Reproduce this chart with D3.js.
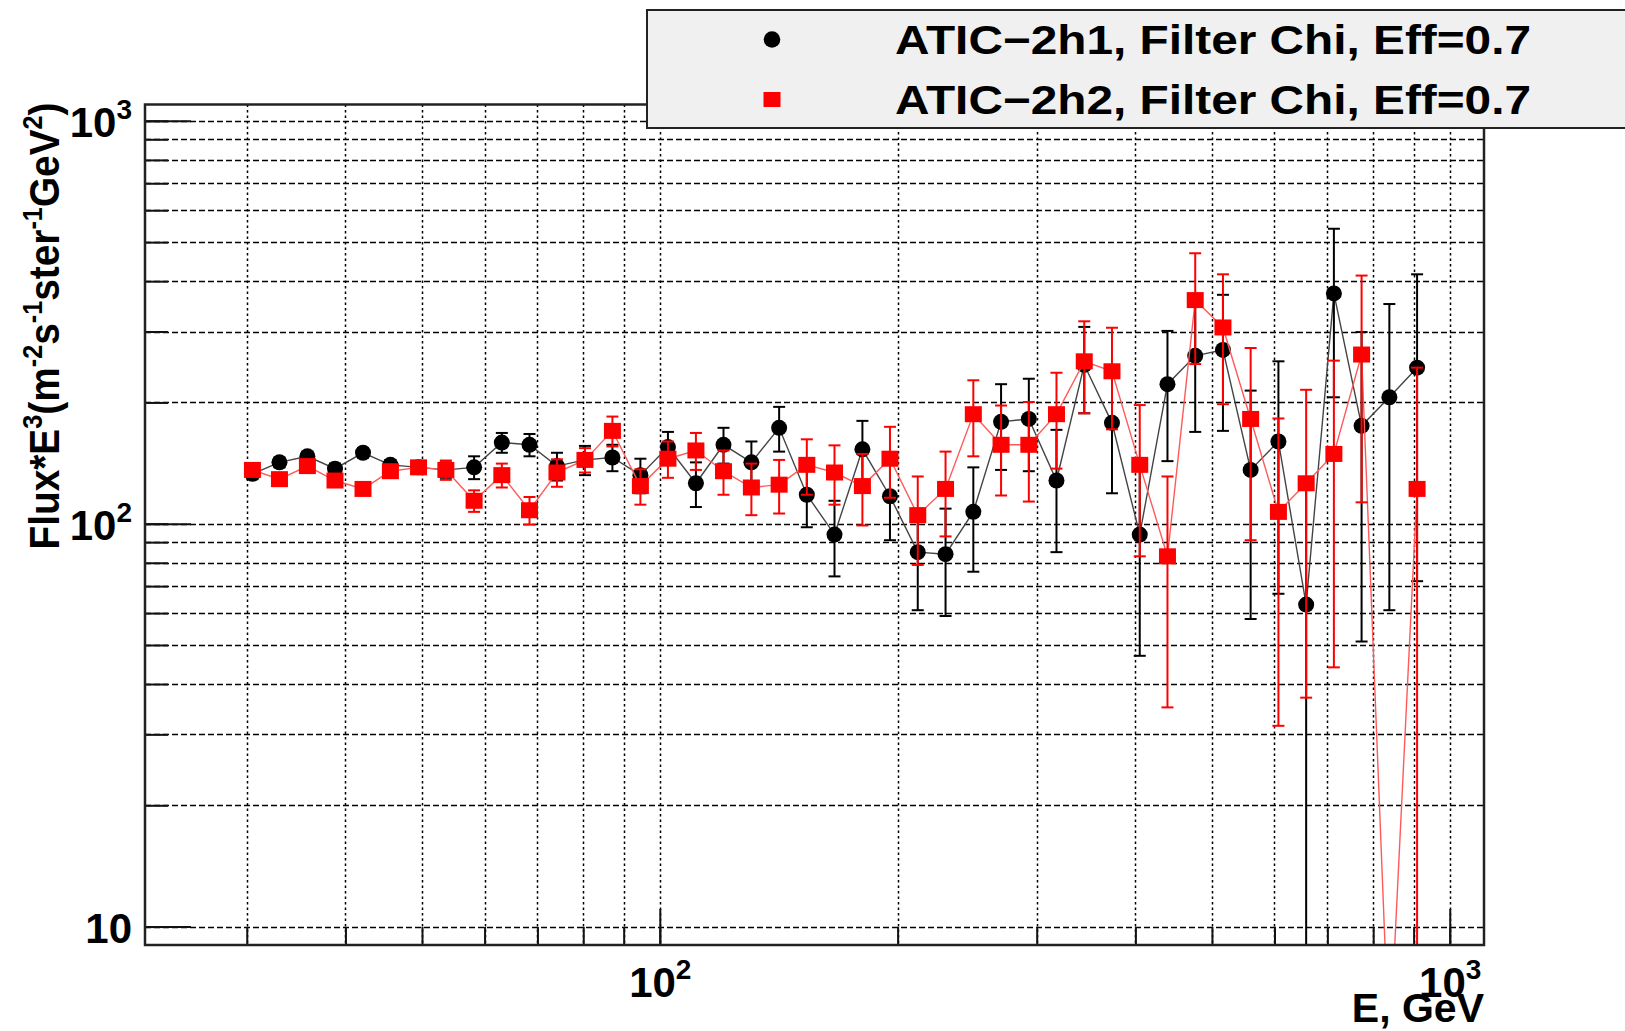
<!DOCTYPE html>
<html>
<head>
<meta charset="utf-8">
<script src="https://cdn.jsdelivr.net/npm/d3@7"></script>
<style>
  body { margin: 0; background: #fff; }
  svg { display: block; }
  text { font-family: "Liberation Sans", Arial, Helvetica, sans-serif; font-weight: bold; fill: #000; }
</style>
</head>
<body>
<svg id="chart"></svg>
<script>
// bin centres, GeV
const energy = [30.5, 33.0, 35.8, 38.8, 42.1, 45.6, 49.5, 53.6, 58.2, 63.1, 68.4, 74.1, 80.4, 87.1,
  94.5, 102.4, 111.1, 120.4, 130.6, 141.6, 153.5, 166.4, 180.5, 195.6, 212.1, 230.0, 249.4, 270.4,
  293.2, 317.8, 344.6, 373.6, 405.1, 439.2, 476.2, 516.3, 559.7, 606.9, 658.0, 713.4, 773.4, 838.6, 909.2];

const fluxH1 = [133, 142, 147, 137, 150, 140, 138, 136, 138, 159, 157, 139, 144, 146, 132, 155, 126, 157,
  142, 173, 118, 94, 153, 117, 85, 84, 107, 179, 182, 128, 248, 178, 94, 222, 261, 270, 136, 160, 63,
  373, 175, 206, 244];
const errH1 = [4, 4, 4, 4, 4, 4, 5, 6, 9, 9, 10, 11, 12, 11, 13, 14, 16, 16, 18, 22, 20, 20, 27, 26, 24,
  25, 31, 43, 47, 43, 60, 59, 47, 79, 92, 100, 78, 93, 66, 167, 124, 145, 172];

const fluxH2 = [136, 129, 139, 128, 122, 135, 138, 136, 114, 132, 108, 134, 144, 170, 124, 145, 152, 135,
  123, 125, 140, 134, 124, 145, 105, 122, 187, 157, 157, 187, 253, 239, 140, 83, 359, 307, 182, 107,
  126, 149, 263, 4.8, 122];
const errH2 = [4, 4, 4, 4, 4, 4, 4, 7.5, 7, 9, 8.5, 10.5, 10, 14.5, 12.5, 15, 16, 17, 18, 19, 22, 22.5,
  25, 29, 26, 29, 40, 39.5, 43.5, 50, 65, 67.5, 57, 48, 110, 109, 91, 75.5, 89, 105, 150, 3, 122];

const xDomain = [22.3, 1105];
const yDomain = [9, 1098];
const xMajorTicks = [100, 1000];
const xTickExponents = ["2", "3"];
const yMajorTicks = [10, 100, 1000];
const yTickExponents = ["", "2", "3"];
const legendLabels = ["ATIC\u22122h1, Filter Chi, Eff=0.7", "ATIC\u22122h2, Filter Chi, Eff=0.7"];

const width = 1625;
const height = 1031;
const frame = { left: 145, right: 1484, top: 104.5, bottom: 945 };

const svg = d3.select("#chart").attr("width", width).attr("height", height);

const x = d3.scaleLog().domain(xDomain).range([frame.left, frame.right]);
const y = d3.scaleLog().domain(yDomain).range([frame.bottom, frame.top]);

const xGrid = x.ticks();
const yGrid = y.ticks().filter(v => v >= 10);

function drawGrid() {
  const g = svg.append("g").attr("stroke", "#000").attr("stroke-width", 1.5);

  g.selectAll("line.h")
    .data(yGrid)
    .join("line")
    .attr("x1", frame.left)
    .attr("x2", frame.right)
    .attr("y1", d => Math.round(y(d)) + 0.5)
    .attr("y2", d => Math.round(y(d)) + 0.5)
    .attr("stroke-dasharray", "6,3");

  g.selectAll("line.v")
    .data(xGrid)
    .join("line")
    .attr("x1", d => Math.round(x(d)) + 0.5)
    .attr("x2", d => Math.round(x(d)) + 0.5)
    .attr("y1", frame.top)
    .attr("y2", frame.bottom)
    .attr("stroke-dasharray", "2.5,3");
}

function powerLabel(text, exponent, supShift) {
  text.append("tspan").text("10");
  if (exponent) {
    text.append("tspan")
      .attr("dy", -supShift)
      .attr("font-size", 28)
      .text(exponent);
  }
}

function styleAxis(g) {
  g.select(".domain").remove();
  g.attr("color", "#111");
  g.selectAll(".tick line").attr("stroke-width", 2);
}

function drawAxes() {
  // minor + major ticks, pointing into the frame
  svg.append("g")
    .attr("transform", `translate(${frame.left},0)`)
    .call(d3.axisLeft(y).tickValues(yGrid).tickSizeInner(-23).tickSizeOuter(0).tickFormat(""))
    .call(styleAxis);

  const yMajor = svg.append("g")
    .attr("transform", `translate(${frame.left},0)`)
    .call(d3.axisLeft(y).tickValues(yMajorTicks).tickSizeInner(-46).tickSizeOuter(0).tickFormat(""))
    .call(styleAxis);

  yMajor.selectAll(".tick text").remove();
  yMajor.selectAll(".tick")
    .append("text")
    .attr("x", -13)
    .attr("y", 16)
    .attr("text-anchor", "end")
    .attr("font-size", 42)
    .each(function (d, i) { powerLabel(d3.select(this), yTickExponents[i], 18); });

  svg.append("g")
    .attr("transform", `translate(0,${frame.bottom})`)
    .call(d3.axisBottom(x).tickValues(xGrid).tickSizeInner(-18).tickSizeOuter(0).tickFormat(""))
    .call(styleAxis);

  const xMajor = svg.append("g")
    .attr("transform", `translate(0,${frame.bottom})`)
    .call(d3.axisBottom(x).tickValues(xMajorTicks).tickSizeInner(-36).tickSizeOuter(0).tickFormat(""))
    .call(styleAxis);

  xMajor.selectAll(".tick text").remove();
  xMajor.selectAll(".tick")
    .append("text")
    .attr("x", 0)
    .attr("y", 52)
    .attr("text-anchor", "middle")
    .attr("font-size", 42)
    .each(function (d, i) { powerLabel(d3.select(this), xTickExponents[i], 18); });

  svg.append("text")
    .attr("x", frame.right)
    .attr("y", 1022)
    .attr("text-anchor", "end")
    .attr("font-size", 41)
    .text("E, GeV");

  // y title with superscripts
  const title = svg.append("text")
    .attr("transform", "translate(59,326) rotate(-90)")
    .attr("text-anchor", "middle")
    .attr("font-size", 43)
    .attr("textLength", 447)
    .attr("lengthAdjust", "spacingAndGlyphs");
  const parts = [["Flux*E", 0], ["3", 1], ["(m", 0], ["-2", 1], ["s", 0], ["-1", 1],
    ["ster", 0], ["-1", 1], ["GeV", 0], ["2", 1], [")", 0]];
  let raised = false;
  parts.forEach(([s, sup]) => {
    const t = title.append("tspan").text(s);
    if (sup) {
      t.attr("font-size", 28).attr("dy", -17);
      raised = true;
    } else if (raised) {
      t.attr("dy", 17);
      raised = false;
    }
  });
}

function drawFrame() {
  svg.append("rect")
    .attr("x", frame.left)
    .attr("y", frame.top)
    .attr("width", frame.right - frame.left)
    .attr("height", frame.bottom - frame.top)
    .attr("fill", "none")
    .attr("stroke", "#222")
    .attr("stroke-width", 2.5);
}

function drawSeries(container, flux, err, opts) {
  const pts = energy.map((e, i) => ({ e, v: flux[i], err: err[i] }));
  const g = container.append("g");

  g.append("path")
    .datum(pts)
    .attr("fill", "none")
    .attr("stroke", opts.lineColor)
    .attr("stroke-width", 1.4)
    .attr("d", d3.line().x(d => x(d.e)).y(d => y(d.v)));

  const inside = pts.filter(d => d.v >= yDomain[0] && d.v <= yDomain[1]);
  const lo = d => (d.v - d.err > yDomain[0] ? y(d.v - d.err) : frame.bottom);
  const hi = d => (d.v + d.err < yDomain[1] ? y(d.v + d.err) : frame.top);
  const cap = 6;

  const bars = g.append("g").attr("stroke", opts.color).attr("stroke-width", 2);
  bars.selectAll("line.bar")
    .data(inside)
    .join("line")
    .attr("x1", d => x(d.e))
    .attr("x2", d => x(d.e))
    .attr("y1", lo)
    .attr("y2", hi);
  bars.selectAll("line.lo")
    .data(inside)
    .join("line")
    .attr("x1", d => x(d.e) - cap)
    .attr("x2", d => x(d.e) + cap)
    .attr("y1", lo)
    .attr("y2", lo);
  bars.selectAll("line.hi")
    .data(inside)
    .join("line")
    .attr("x1", d => x(d.e) - cap)
    .attr("x2", d => x(d.e) + cap)
    .attr("y1", hi)
    .attr("y2", hi);

  if (opts.shape === "circle") {
    g.selectAll("circle")
      .data(inside)
      .join("circle")
      .attr("cx", d => x(d.e))
      .attr("cy", d => y(d.v))
      .attr("r", 8)
      .attr("fill", opts.color);
  } else {
    g.selectAll("rect")
      .data(inside)
      .join("rect")
      .attr("x", d => x(d.e) - 8.5)
      .attr("y", d => y(d.v) - 8)
      .attr("width", 17)
      .attr("height", 16)
      .attr("fill", opts.color);
  }
}

function drawLegend() {
  const g = svg.append("g");
  g.append("rect")
    .attr("x", 647)
    .attr("y", 10)
    .attr("width", 1000)
    .attr("height", 118)
    .attr("fill", "#f0f0f0")
    .attr("stroke", "#222")
    .attr("stroke-width", 2);

  g.append("circle").attr("cx", 772).attr("cy", 39.5).attr("r", 8.3).attr("fill", "#000");
  g.append("rect").attr("x", 763.5).attr("y", 92).attr("width", 17).attr("height", 15).attr("fill", "#ff0000");

  g.selectAll("text")
    .data(legendLabels)
    .join("text")
    .attr("x", 895)
    .attr("y", (d, i) => 53.5 + i * 60)
    .attr("font-size", 40)
    .attr("textLength", 636)
    .attr("lengthAdjust", "spacingAndGlyphs")
    .text(d => d);
}

svg.append("defs")
  .append("clipPath")
  .attr("id", "frame-clip")
  .append("rect")
  .attr("x", frame.left)
  .attr("y", frame.top)
  .attr("width", frame.right - frame.left)
  .attr("height", frame.bottom - frame.top);

drawGrid();
drawAxes();

const plot = svg.append("g").attr("clip-path", "url(#frame-clip)");
drawSeries(plot, fluxH1, errH1, { color: "#000", lineColor: "#444", shape: "circle" });
drawSeries(plot, fluxH2, errH2, { color: "#ff0000", lineColor: "#ff5a5a", shape: "square" });

drawFrame();
drawLegend();
</script>
</body>
</html>
